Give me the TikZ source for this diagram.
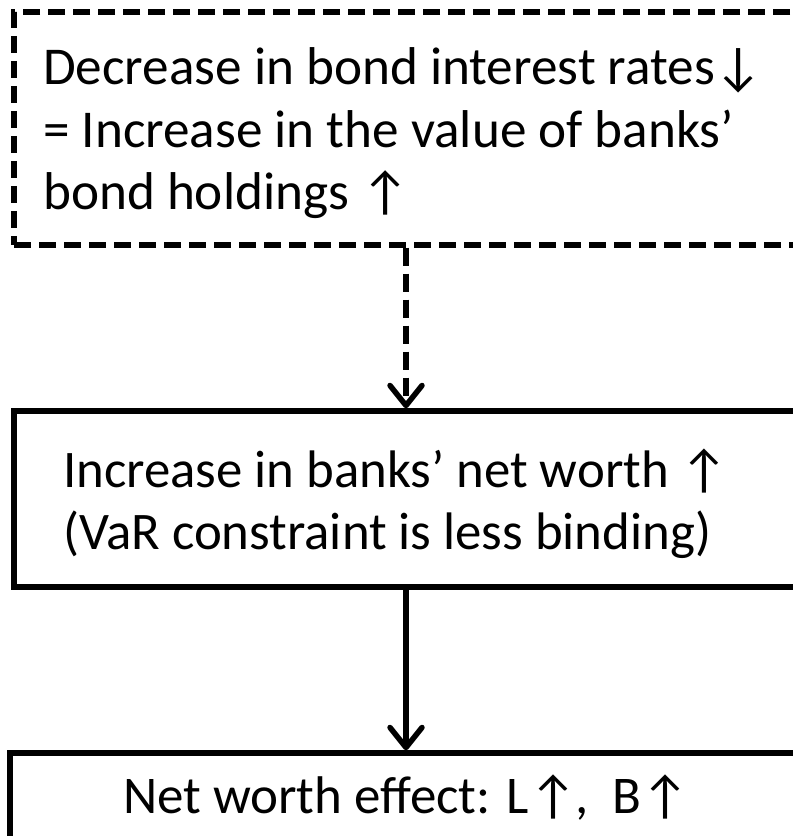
\documentclass[tikz,border=0pt]{standalone}
\usepackage{fontspec}
\setmainfont{Carlito}
\usetikzlibrary{arrows.meta}
\begin{document}
\begin{tikzpicture}[x=1pt,y=1pt,
  box/.style={draw, line width=5.5pt, minimum width=784pt, inner sep=0pt},
  dashbox/.style={box, dash pattern=on 17pt off 8pt},
  txt/.style={inner sep=0pt, anchor=base west, font=\fontsize{53.2}{63}\selectfont},
  link/.style={line width=5.5pt, -{Straight Barb[length=20pt,width=32pt,line cap=round,line join=round]}}
]
\useasboundingbox (0,0) rectangle (793,836);
\node[dashbox, minimum height=233pt] (b1) at (406,707.5) {};
\node[box, minimum height=176pt] (b2) at (406,337) {};
\node[box, minimum width=792pt, minimum height=92pt] (b3) at (406,37) {};
\node[txt] (t11) at (43,751) {Decrease in bond interest rates↓};
\node[txt] (t12) at (43,688) {= Increase in the value of banks’};
\node[txt] (t13) at (43,626) {bond holdings ↑};
\node[txt, font=\fontsize{52.8}{63}\selectfont] (t21) at (63,348) {Increase in banks’ net worth ↑};
\node[txt, font=\fontsize{52.8}{63}\selectfont] (t22) at (63,286) {(VaR constraint is less binding)};
\node[txt, anchor=base, font=\fontsize{53}{63}\selectfont] (t31) at (406,23) {Net worth effect: L↑\kern-2pt, ~B↑};
\draw[link, dash pattern=on 18pt off 8pt] (b1.south) -- (b2.north);
\draw[link] (b2.south) -- (b3.north);
\end{tikzpicture}
\end{document}
